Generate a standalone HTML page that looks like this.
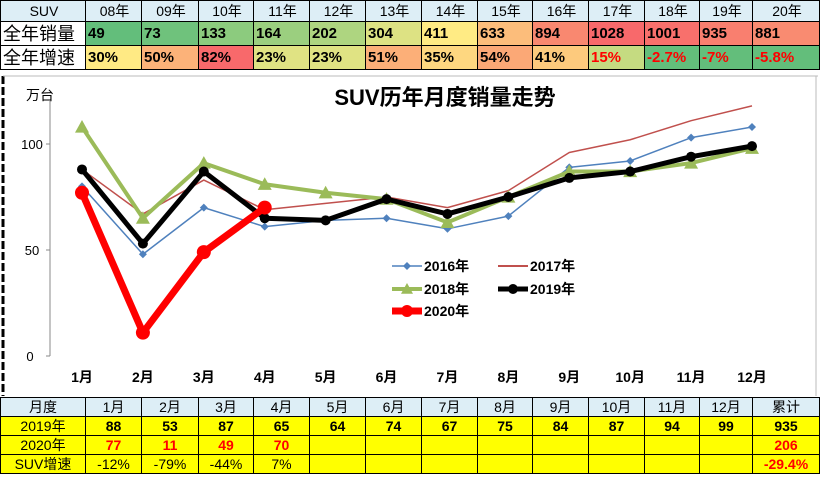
<!DOCTYPE html>
<html><head><meta charset="utf-8">
<style>
body{margin:0;width:820px;height:478px;overflow:hidden;background:#fff;font-family:"Liberation Sans","Noto Sans CJK SC",sans-serif;position:relative}
table{border-collapse:collapse;position:absolute;left:0;table-layout:fixed}
td{border:1px solid #000;padding:0;overflow:hidden;white-space:nowrap;line-height:1}
#top td{height:23px;font-size:15px;font-weight:bold;padding-left:2px}
#top tr:first-child td{background:#ddeef6;text-align:center;font-weight:normal;font-size:14px;height:20px}
#top td.lab{background:#fff;font-size:18px;font-weight:normal;text-align:left}
#bot td{height:18px;background:#ffff00;text-align:center;font-size:14px;font-weight:bold}
#bot tr:first-child td{background:#ddeef6;font-weight:normal}
#bot td.lab{font-weight:normal}
.r{color:#f00}
.n{font-weight:normal!important}
</style></head><body>
<table id="top" style="top:0;width:819px">
<colgroup><col style="width:85px"><col style="width:56px"><col style="width:57px"><col style="width:55px"><col style="width:56px"><col style="width:56px"><col style="width:56px"><col style="width:56px"><col style="width:55px"><col style="width:56px"><col style="width:56px"><col style="width:55px"><col style="width:53px"><col style="width:67px"></colgroup>
<tr><td>SUV</td><td>08年</td><td>09年</td><td>10年</td><td>11年</td><td>12年</td><td>13年</td><td>14年</td><td>15年</td><td>16年</td><td>17年</td><td>18年</td><td>19年</td><td>20年</td></tr>
<tr><td class="lab">全年销量</td><td style="background:#63be7b">49</td><td style="background:#6fc27c">73</td><td style="background:#8ccb7e">133</td><td style="background:#9bcf7f">164</td><td style="background:#aed580">202</td><td style="background:#dde283">304</td><td style="background:#ffeb84">411</td><td style="background:#fcbd7b">633</td><td style="background:#f98870">894</td><td style="background:#f8696b">1028</td><td style="background:#f8706c">1001</td><td style="background:#f97f6f">935</td><td style="background:#f98b71">881</td></tr>
<tr><td class="lab">全年增速</td><td style="background:#ffea84">30%</td><td style="background:#fcb279">50%</td><td style="background:#f8696b">82%</td><td style="background:#e0e383">23%</td><td style="background:#e0e383">23%</td><td style="background:#fcaf78">51%</td><td style="background:#fed780">35%</td><td style="background:#fba876">54%</td><td style="background:#fdca7d">41%</td><td class="r" style="background:#c5db81">15%</td><td class="r" style="background:#63be7b">-2.7%</td><td class="r" style="background:#63be7b">-7%</td><td class="r" style="background:#63be7b">-5.8%</td></tr>
</table>

<svg id="chart" width="820" height="478" style="position:absolute;left:0;top:0">
<line x1="3" y1="76" x2="3" y2="396" stroke="#000" stroke-width="3" stroke-dasharray="8,3"/>
<line x1="3" y1="76" x2="818" y2="76" stroke="#bbb"/>
<line x1="816" y1="76" x2="816" y2="396" stroke="#bbb"/>
<text x="445" y="105" text-anchor="middle" font-size="22" font-weight="bold">SUV历年月度销量走势</text>
<text x="26" y="100" font-size="14">万台</text>
<g id="axes"></g><g id="series"></g><g id="legend"></g>
</svg>

<table id="bot" style="top:397px;width:819px">
<colgroup><col style="width:85px"><col style="width:56px"><col style="width:57px"><col style="width:55px"><col style="width:56px"><col style="width:56px"><col style="width:56px"><col style="width:56px"><col style="width:55px"><col style="width:56px"><col style="width:56px"><col style="width:55px"><col style="width:53px"><col style="width:67px"></colgroup>
<tr><td>月度</td><td>1月</td><td>2月</td><td>3月</td><td>4月</td><td>5月</td><td>6月</td><td>7月</td><td>8月</td><td>9月</td><td>10月</td><td>11月</td><td>12月</td><td>累计</td></tr>
<tr><td class="lab">2019年</td><td>88</td><td>53</td><td>87</td><td>65</td><td>64</td><td>74</td><td>67</td><td>75</td><td>84</td><td>87</td><td>94</td><td>99</td><td>935</td></tr>
<tr><td class="lab">2020年</td><td class="r">77</td><td class="r">11</td><td class="r">49</td><td class="r">70</td><td></td><td></td><td></td><td></td><td></td><td></td><td></td><td></td><td class="r">206</td></tr>
<tr><td class="lab">SUV增速</td><td class="n">-12%</td><td class="n">-79%</td><td class="n">-44%</td><td class="n">7%</td><td></td><td></td><td></td><td></td><td></td><td></td><td></td><td></td><td class="r">-29.4%</td></tr>
</table>

<script>
const months=["1月","2月","3月","4月","5月","6月","7月","8月","9月","10月","11月","12月"];
const yTicks=[0,50,100];
const s2016=[80,48,70,61,64,65,60,66,89,92,103,108];
const s2017=[88,67,83,69,72,75,70,78,96,102,111,118];
const s2018=[108,65,91,81,77,74,63,75,87,87,91,98];
const s2019=[88,53,87,65,64,74,67,75,84,87,94,99];
const s2020=[77,11,49,70];
const NS="http://www.w3.org/2000/svg";
const x=i=>82+i*(752-82)/11;
const y=v=>356-v*2.12;
function mk(t,a,p){const e=document.createElementNS(NS,t);for(const k in a)e.setAttribute(k,a[k]);p.appendChild(e);return e;}
const ax=document.getElementById('axes');
const yl=mk('line',{x1:50,y1:100,x2:50,y2:356,stroke:'#888'},ax);


yTicks.forEach(t=>{
 mk('line',{x1:46,y1:y(t),x2:50,y2:y(t),stroke:'#888'},ax);
 const tx=mk('text',{x:t?32:30,y:y(t)+5,'font-size':13,'text-anchor':'middle'},ax);tx.textContent=t;
 
 
});
months.forEach((m,i)=>{
 const tx=mk('text',{x:x(i),y:382,'font-size':14,'font-weight':'bold','text-anchor':'middle'},ax);tx.textContent=m;
 
 
});
const sg=document.getElementById('series');
function line(d,col,w,marker,ms,name){
 const g=mk('g',{},sg);
 
 
 mk('polyline',{points:d.map((v,i)=>x(i)+','+y(v)).join(' '),fill:'none',stroke:col,'stroke-width':w,'stroke-linejoin':'round'},g);
 d.forEach((v,i)=>drawMarker(g,marker,x(i),y(v),ms,col));
}
function drawMarker(g,m,cx,cy,s,col){
 if(m==='diamond')mk('polygon',{points:`${cx},${cy-s} ${cx+s},${cy} ${cx},${cy+s} ${cx-s},${cy}`,fill:col},g);
 else if(m==='tri')mk('polygon',{points:`${cx},${cy-s} ${cx+s},${cy+s*0.8} ${cx-s},${cy+s*0.8}`,fill:col},g);
 else if(m==='circle')mk('circle',{cx:cx,cy:cy,r:s,fill:col},g);
}
line(s2016,'#4f81bd',1.5,'diamond',4,'series-2016');
line(s2017,'#c0504d',1.5,'none',0,'series-2017');
line(s2018,'#9bbb59',4,'tri',7,'series-2018');
line(s2019,'#000',5,'circle',5,'series-2019');
line(s2020,'#ff0000',7,'circle',7,'series-2020');
const lg=document.getElementById('legend');
const items=[["2016年",'#4f81bd',1.5,'diamond',4,392,266],["2017年",'#c0504d',2,'none',0,498,266],["2018年",'#9bbb59',4,'tri',6,392,289],["2019年",'#000',5,'circle',5,498,289],["2020年",'#ff0000',7,'circle',6,392,311]];
items.forEach(it=>{
 const g=mk('g',{},lg);
 
 
 mk('line',{x1:it[5],y1:it[6],x2:it[5]+30,y2:it[6],stroke:it[1],'stroke-width':it[2]},g);
 drawMarker(g,it[3],it[5]+15,it[6],it[4],it[1]);
 const t=mk('text',{x:it[5]+32,y:it[6]+5,'font-size':14,'font-weight':'bold'},g);t.textContent=it[0];
});
</script>
</body></html>
